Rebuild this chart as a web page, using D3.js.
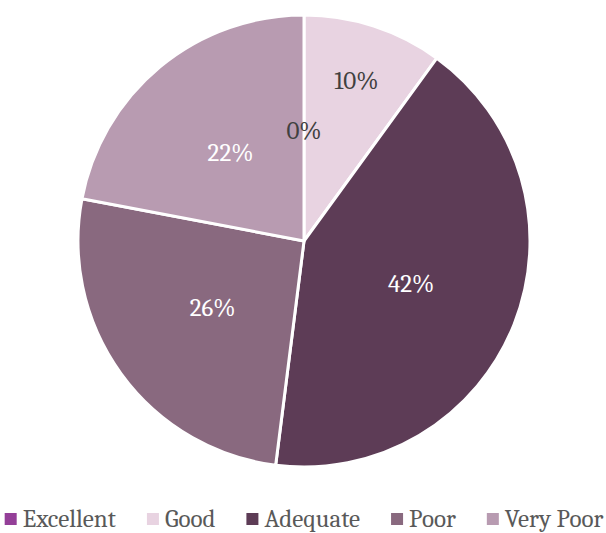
<!DOCTYPE html>
<html>
<head>
<meta charset="utf-8">
<script src="https://cdn.jsdelivr.net/npm/d3@7"></script>
<style>
  html, body { margin: 0; padding: 0; background: #fff; overflow: hidden; }
  svg { display: block; }
</style>
</head>
<body>
<svg id="chart" width="606" height="533"></svg>
<script>
// Rating categories and their share of responses (percent)
const categories = ["Excellent", "Good", "Adequate", "Poor", "Very Poor"];
const shares = [0, 10, 42, 26, 22];
const colors = ["#943F98", "#E8D3E1", "#5D3C56", "#89697F", "#B89BB1"];
// Label fill: dark text on the pale slices, white on the darker ones
const labelColors = ["#404040", "#404040", "#ffffff", "#ffffff", "#ffffff"];
// Distance of each value label from the centre, as a fraction of the radius
const labelRadius = [0.49, 0.75, 0.51, 0.5, 0.51];

const svg = d3.select("#chart");
const width = 606;
const cx = 304, cy = 241, R = 226;
const font = "'Cambria', 'Caladea', 'Liberation Serif', serif";
const fontSize = 25;

const data = categories.map((c, i) => ({ category: c, value: shares[i], i }));

const pie = d3.pie().sort(null).value(d => d.value);
const arcs = pie(data);
const arc = d3.arc().innerRadius(0).outerRadius(R);

const g = svg.append("g").attr("transform", `translate(${cx},${cy})`);

g.selectAll("path.slice")
  .data(arcs)
  .join("path")
  .attr("class", "slice")
  .attr("d", arc)
  .attr("fill", d => colors[d.data.i])
  .attr("stroke", "#ffffff")
  .attr("stroke-width", 3)
  .attr("stroke-linejoin", "round");

// Percentage labels placed along each slice's bisector
g.selectAll("text.value")
  .data(arcs)
  .join("text")
  .attr("class", "value")
  .attr("transform", d => {
    const r = R * labelRadius[d.data.i];
    const c = d3.arc().innerRadius(r).outerRadius(r).centroid(d);
    return `translate(${c[0]},${c[1]})`;
  })
  .attr("text-anchor", "middle")
  .attr("dy", "0.35em")
  .style("font-family", font)
  .style("font-size", fontSize + "px")
  .attr("fill", d => labelColors[d.data.i])
  .text(d => d3.format(".0f")(d.data.value) + "%");

// Legend along the bottom, centred under the pie
const legend = svg.append("g");
const swatch = 12, swatchGap = 6, itemGap = 31;
let x = 0;
categories.forEach((c, i) => {
  const item = legend.append("g").attr("transform", `translate(${x},0)`);
  item.append("rect")
    .attr("x", 0).attr("y", -6)
    .attr("width", swatch).attr("height", swatch)
    .attr("fill", colors[i]);
  const t = item.append("text")
    .attr("x", swatch + swatchGap)
    .attr("y", 0)
    .attr("dy", "0.32em")
    .style("font-family", font)
    .style("font-size", fontSize + "px")
    .attr("fill", "#595959")
    .text(c);
  const w = t.node().getComputedTextLength();
  x += swatch + swatchGap + w + (i < categories.length - 1 ? itemGap : 0);
});
legend.attr("transform", `translate(${(width - x) / 2 + 1},519)`);
</script>
</body>
</html>
